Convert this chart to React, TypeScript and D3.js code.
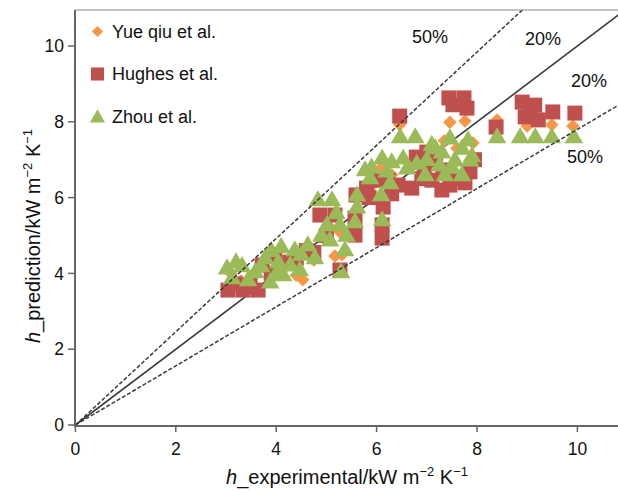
import React from "react";
import * as d3 from "d3";

// Measured heat transfer coefficient (x) vs. predicted (y), kW m^-2 K^-1
const yueX = [7.46, 7.76, 6.46, 8.40, 9.00, 9.49, 9.91, 6.09, 4.97, 5.27, 5.17, 5.31, 4.53, 4.40, 7.92, 3.10, 3.50, 4.00, 5.60, 6.30, 7.20, 5.90, 7.60, 3.30, 4.20, 4.75, 5.05, 7.05, 7.35];
const yueY = [7.99, 8.02, 7.92, 8.05, 7.89, 7.92, 7.89, 6.78, 5.09, 5.09, 4.46, 4.49, 3.83, 3.95, 7.44, 4.00, 3.90, 4.10, 6.00, 6.60, 7.00, 6.30, 7.30, 3.80, 4.20, 4.35, 5.25, 6.90, 7.50];

const hughesX = [3.04, 3.34, 3.64, 3.18, 3.48, 3.97, 4.27, 3.72, 4.87, 5.17, 5.27, 5.57, 5.57, 5.59, 5.97, 6.23, 6.43, 6.70, 6.13, 6.11, 6.11, 6.79, 6.46, 7.17, 7.32, 7.10, 7.46, 7.76, 7.86, 7.44, 7.74, 7.80, 8.38, 8.90, 9.15, 8.96, 9.22, 9.51, 9.95, 5.85, 4.60, 6.95, 3.90, 4.40, 4.75, 5.00, 6.90, 7.30, 7.60, 7.00, 7.52, 6.30, 5.80, 7.95, 9.05];
const hughesY = [3.56, 3.56, 3.56, 3.72, 3.69, 4.49, 4.30, 4.22, 5.54, 5.54, 4.09, 5.46, 5.01, 6.07, 6.46, 6.46, 6.33, 6.25, 5.75, 5.28, 4.93, 7.07, 8.15, 6.99, 6.73, 6.46, 6.33, 6.39, 6.68, 8.63, 8.63, 8.36, 7.86, 8.52, 8.44, 8.13, 8.05, 8.26, 8.23, 6.00, 4.60, 6.80, 4.00, 4.40, 4.55, 5.00, 6.50, 6.20, 6.50, 7.20, 8.45, 6.10, 6.25, 7.00, 8.30];

const zhouX = [3.02, 3.32, 3.58, 3.12, 3.44, 3.78, 4.04, 4.14, 3.88, 4.37, 4.63, 4.77, 4.28, 4.47, 4.83, 5.11, 5.01, 5.27, 5.29, 5.07, 5.37, 5.61, 5.61, 5.57, 5.77, 5.87, 6.11, 6.30, 6.53, 6.61, 6.27, 6.09, 6.11, 6.47, 6.77, 7.17, 7.46, 7.82, 7.26, 7.56, 7.86, 7.36, 7.70, 6.97, 8.40, 8.86, 9.16, 9.49, 9.93, 3.20, 3.90, 4.10, 4.50, 4.90, 5.20, 5.90, 6.20, 7.00, 7.30, 7.50, 7.70, 7.90, 6.80, 5.40, 4.00, 3.70, 7.10];
const zhouY = [4.14, 4.20, 4.04, 3.88, 3.83, 4.41, 4.30, 3.96, 3.77, 4.62, 4.75, 4.41, 4.22, 4.09, 5.94, 5.94, 5.28, 5.28, 4.04, 4.88, 4.62, 6.07, 5.75, 5.36, 6.73, 6.52, 7.04, 6.94, 7.04, 6.78, 6.39, 6.07, 5.41, 7.60, 7.60, 7.31, 7.57, 7.52, 6.86, 6.99, 6.99, 6.60, 6.60, 6.60, 7.60, 7.60, 7.60, 7.60, 7.60, 4.30, 4.60, 4.70, 4.50, 5.00, 5.60, 6.80, 6.70, 7.00, 7.20, 6.80, 7.30, 7.10, 6.90, 5.00, 4.00, 4.20, 7.40];

const seriesNames = ["Yue qiu et al.", "Hughes et al.", "Zhou et al."];
const seriesColors = ["#F79646", "#C0504D", "#9BBB59"];

const xTicks = [0, 2, 4, 6, 8, 10];
const yTicks = [0, 2, 4, 6, 8, 10];

// Reference lines: slope and label
const refSlopes = [1.23, 1, 0.78];
const refLabels = ["50%", "20%", "20%", "50%"];

const W = 618;
const H = 491;
const left = 75;
const right = 618;
const top = 10;
const bottom = 425;

const x = d3.scaleLinear().domain([0, 10]).range([75.4, 577.4]);
const y = d3.scaleLinear().domain([0, 10]).range([425, 46]);

const font = "'Liberation Sans', Arial, Helvetica, sans-serif";

const diamond = d3.symbol().type(d3.symbolDiamond2).size(115)() as string;
const square = d3.symbol().type(d3.symbolSquare).size(225)() as string;
const triangle = d3.symbol().type(d3.symbolTriangle).size(150)() as string;

function toPoints(xs: number[], ys: number[]) {
  return xs.map((v, i) => [v, ys[i]] as [number, number]);
}

export default function App() {
  const line = d3.line<[number, number]>().x((d) => x(d[0])).y((d) => y(d[1]));
  const xMax = 12;

  return (
    <svg
      width={W}
      height={H}
      style={{ position: "absolute", left: 0, top: 0, background: "#fff" }}
      fontFamily={font}
    >
      <defs>
        <clipPath id="plot">
          <rect x={left} y={top} width={right - left} height={bottom - top + 1} />
        </clipPath>
      </defs>

      {/* solid 1:1 line beneath the markers */}
      <g clipPath="url(#plot)">
        <path
          d={line([[0, 0], [xMax, xMax * refSlopes[1]]]) || ""}
          stroke="#3a3a3a"
          strokeWidth={1.6}
          fill="none"
        />
      </g>

      <g clipPath="url(#plot)">
        {toPoints(yueX, yueY).map((p, i) => (
          <path key={"a" + i} d={diamond} transform={`translate(${x(p[0])},${y(p[1])})`} fill={seriesColors[0]} />
        ))}
        {toPoints(hughesX, hughesY).map((p, i) => (
          <path key={"b" + i} d={square} transform={`translate(${x(p[0])},${y(p[1])})`} fill={seriesColors[1]} />
        ))}
        {toPoints(zhouX, zhouY).map((p, i) => (
          <path key={"c" + i} d={triangle} transform={`translate(${x(p[0])},${y(p[1]) + 1})`} fill={seriesColors[2]} />
        ))}
      </g>

      {/* dashed deviation bands */}
      <g clipPath="url(#plot)">
        {[refSlopes[0], refSlopes[2]].map((s, i) => (
          <path
            key={i}
            d={line([[0, 0], [xMax, xMax * s]]) || ""}
            stroke="#3a3a3a"
            strokeWidth={1.5}
            strokeDasharray="4,2"
            fill="none"
          />
        ))}
      </g>

      {/* frame */}
      <line x1={left} x2={right} y1={top} y2={top} stroke="#888" strokeWidth={1.2} />
      <line x1={left} x2={left} y1={top} y2={bottom + 1} stroke="#666" strokeWidth={2} />
      <line x1={left - 1} x2={right} y1={bottom + 1} y2={bottom + 1} stroke="#666" strokeWidth={2} />

      {/* axes ticks and labels */}
      {yTicks.map((t) => (
        <g key={"y" + t}>
          <line x1={left - 7} x2={left} y1={y(t)} y2={y(t)} stroke="#666" strokeWidth={1.5} />
          <text x={64} y={y(t)} dy="0.35em" textAnchor="end" fontSize={17.5} fill="#111">
            {t}
          </text>
        </g>
      ))}
      {xTicks.map((t) => (
        <g key={"x" + t}>
          <line x1={x(t)} x2={x(t)} y1={bottom + 1} y2={bottom + 7} stroke="#666" strokeWidth={1.5} />
          <text x={x(t)} y={455} textAnchor="middle" fontSize={17.5} fill="#111">
            {t}
          </text>
        </g>
      ))}

      {/* axis titles */}
      <text x={347} y={484} textAnchor="middle" fontSize={20} fill="#111">
        <tspan fontStyle="italic">h</tspan>
        <tspan>_experimental/kW m</tspan>
        <tspan fontSize={13} dy={-8}>−2</tspan>
        <tspan dy={8}> K</tspan>
        <tspan fontSize={13} dy={-8}>−1</tspan>
      </text>
      <text transform="translate(40,236) rotate(-90)" textAnchor="middle" fontSize={20} fill="#111">
        <tspan fontStyle="italic">h</tspan>
        <tspan>_prediction/kW m</tspan>
        <tspan fontSize={13} dy={-8}>−2</tspan>
        <tspan dy={8}> K</tspan>
        <tspan fontSize={13} dy={-8}>−1</tspan>
      </text>

      {/* band labels */}
      <text x={430} y={43} textAnchor="middle" fontSize={18} fill="#111">{refLabels[0]}</text>
      <text x={543} y={45} textAnchor="middle" fontSize={18} fill="#111">{refLabels[1]}</text>
      <text x={589} y={87} textAnchor="middle" fontSize={18} fill="#111">{refLabels[2]}</text>
      <text x={585} y={163} textAnchor="middle" fontSize={18} fill="#111">{refLabels[3]}</text>

      {/* legend */}
      {seriesNames.map((name, i) => {
        const cy = [31.5, 74, 117][i];
        const sym = [
          d3.symbol().type(d3.symbolDiamond2).size(80)(),
          d3.symbol().type(d3.symbolSquare).size(170)(),
          d3.symbol().type(d3.symbolTriangle).size(100)(),
        ][i] as string;
        return (
          <g key={name}>
            <path d={sym} transform={`translate(97.5,${cy + (i === 2 ? 1 : 0)})`} fill={seriesColors[i]} />
            <text x={112} y={cy} dy="0.36em" fontSize={18} fill="#111">
              {name}
            </text>
          </g>
        );
      })}
    </svg>
  );
}
